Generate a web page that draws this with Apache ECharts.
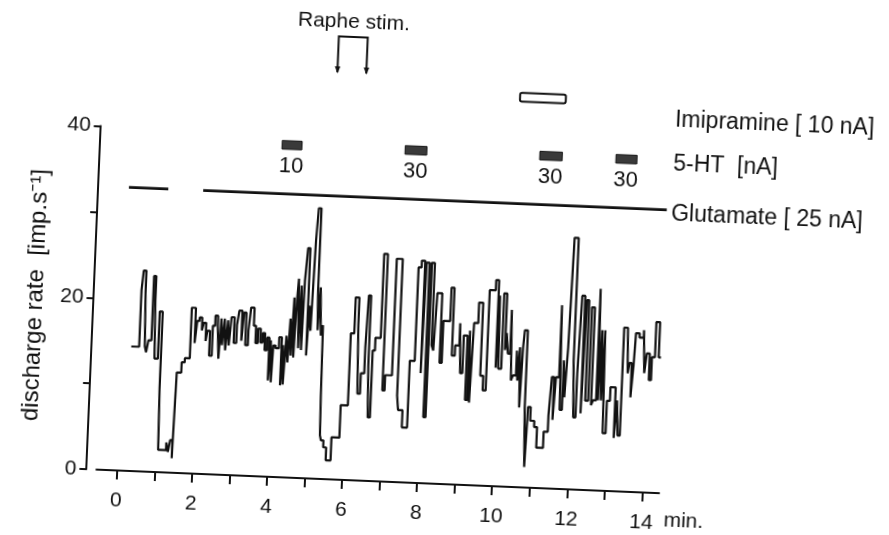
<!DOCTYPE html>
<html>
<head>
<meta charset="utf-8">
<script src="https://cdn.jsdelivr.net/npm/echarts@6.0.0/dist/echarts.min.js"></script>
<style>
  html, body { margin: 0; padding: 0; background: #fff; overflow: hidden; }
  #chart { width: 889px; height: 535px; transform: rotate(2.4deg); transform-origin: 50% 50%; }
</style>
</head>
<body>
<div id="chart"></div>
<script>
// ---- data ----
// discharge-rate trace: time (min) at which each step starts, and its rate (imp/s)
const stepTimes = [
  0.24, 0.45, 0.49, 0.56, 0.60, 0.64, 0.69, 0.77, 0.83, 0.87, 0.96, 1.04, 1.07, 1.28, 1.33, 1.38, 1.44, 1.48, 1.60, 1.68, 1.81,
  1.92, 1.97, 2.03, 2.10, 2.15, 2.21, 2.25, 2.32, 2.39, 2.45, 2.52, 2.57, 2.61, 2.65, 2.70, 2.74, 2.79, 2.83, 2.88, 2.96,
  3.03, 3.08, 3.16, 3.21, 3.27, 3.34, 3.39, 3.48, 3.54, 3.60, 3.67, 3.73, 3.79, 3.85, 3.91, 3.95, 3.99, 4.02, 4.08, 4.17,
  4.24, 4.28, 4.31, 4.36, 4.41, 4.45, 4.49, 4.53, 4.56, 4.60, 4.63, 4.68, 4.71, 4.76, 4.79, 4.84, 4.90, 4.94, 4.99, 5.04,
  5.08, 5.15, 5.18, 5.22, 5.27, 5.32, 5.34, 5.36, 5.39, 5.46, 5.54, 5.67, 5.88, 6.07, 6.16, 6.26, 6.31, 6.38, 6.47, 6.51,
  6.57, 6.61, 6.67, 6.73, 6.87, 6.97, 7.03, 7.21, 7.37, 7.41, 7.53, 7.67, 7.80, 7.88, 7.97, 8.01, 8.09, 8.15, 8.23, 8.28,
  8.33, 8.46, 8.52, 8.70, 8.78, 8.86, 8.97, 9.02, 9.08, 9.18, 9.24, 9.29, 9.34, 9.45, 9.56, 9.64, 9.72, 9.88, 9.96, 10.00,
  10.03, 10.11, 10.19, 10.22, 10.27, 10.33, 10.38, 10.43, 10.51, 10.55, 10.59, 10.63, 10.67, 10.70, 10.78, 10.81, 10.83, 10.87, 10.94, 11.05,
  11.13, 11.31, 11.42, 11.47, 11.53, 11.58, 11.66, 11.71, 11.77, 11.82, 11.87, 11.92, 12.03, 12.08, 12.14, 12.19, 12.27, 12.32, 12.38, 12.46,
  12.54, 12.59, 12.67, 12.72, 12.76, 12.80, 12.84, 12.88, 12.96, 13.04, 13.18, 13.23, 13.28, 13.34, 13.44, 13.48, 13.52, 13.58, 13.63, 13.66,
  13.76, 13.87, 13.92, 13.97, 14.05, 14.11, 14.19, 14.29, 14.35
];
const stepRates = [
  14.5, 21.1, 23.4, 20.9, 14.6, 13.9, 15.3, 22.8, 20.0, 13.2, 18.7, 9.8, 2.6, 3.5, 2.4, 3.8, 1.7, 11.7, 12.9, 13.4, 19.3,
  15.2, 17.8, 18.2, 16.7, 17.6, 15.5, 16.7, 13.8, 17.3, 18.5, 17.4, 13.5, 18.2, 15.1, 18.2, 14.5, 18.0, 15.1, 18.4, 15.4,
  17.5, 19.2, 15.7, 19.0, 15.2, 16.9, 19.6, 17.5, 15.5, 17.2, 15.6, 16.7, 14.7, 16.2, 11.2, 15.9, 11.0, 15.3, 15.0, 16.3,
  10.7, 15.4, 10.8, 16.5, 13.4, 18.5, 14.2, 21.0, 14.0, 20.7, 23.2, 15.1, 22.4, 14.9, 23.0, 26.8, 14.3, 20.1, 17.2, 27.7,
  31.5, 21.9, 17.3, 22.3, 16.7, 17.9, 9.7, 5.1, 4.5, 3.7, 2.2, 4.9, 8.7, 17.1, 21.3, 18.1, 10.1, 12.5, 15.5, 21.6,
  13.4, 7.4, 15.2, 16.7, 26.5, 10.6, 12.4, 26.0, 10.1, 8.4, 6.4, 14.2, 25.1, 25.9, 12.8, 25.7, 7.7, 25.7, 16.1, 15.5,
  22.2, 14.1, 19.0, 22.9, 15.0, 16.2, 18.8, 13.0, 17.4, 9.9, 18.0, 9.6, 18.9, 21.3, 12.8, 11.1, 22.8, 24.0, 13.8, 22.2,
  13.7, 22.5, 15.9, 17.9, 15.5, 20.6, 12.4, 13.0, 15.9, 12.4, 16.3, 9.3, 16.3, 18.3, 9.3, 5.1, 2.4, 9.4, 7.8, 7.1,
  4.7, 6.6, 8.5, 13.0, 8.0, 13.0, 21.4, 9.2, 15.0, 10.7, 16.5, 29.3, 15.0, 8.4, 13.5, 22.6, 8.9, 22.1, 10.4, 21.3,
  9.9, 10.5, 23.5, 10.5, 18.7, 10.5, 18.7, 6.7, 10.5, 12.1, 6.2, 10.6, 6.5, 19.1, 19.0, 13.8, 15.0, 11.0, 14.8, 18.5,
  18.0, 18.9, 13.9, 16.2, 13.1, 15.8, 19.9, 15.8, 15.8
];
// drug applications (min)
const glutamateOn = [[0.00, 1.05], [1.98, 14.34]];
const htPulses = [[4.03, 4.56], [7.31, 7.89], [10.90, 11.50], [12.93, 13.49]];
const htDoses = ['10', '30', '30', '30'];
const imipraminePulse = [10.31, 11.53];
const rapheStim = [5.42, 6.19];
const drugLabels = ['Imipramine [ 10 nA]', '5-HT  [nA]', 'Glutamate [ 25 nA]'];
// axis ticks
const xTicks = [0, 1, 2, 3, 4, 5, 6, 7, 8, 9, 10, 11, 12, 13, 14];
const xLabels = [0, 2, 4, 6, 8, 10, 12, 14];
const yLabels = [0, 20, 40];

// ---- layout ----
const FONT = '"Liberation Sans", Arial, sans-serif';
const INK = '#111';
const ROW = { glu: 33.0, htTop: 39.2, htBot: 38.2, htText: 36.2, imiTop: 45.9, imiBot: 44.9,
              rapheTop: 51.6, rapheBot: 47.4, rapheText: 53.3,
              labelT: 14.46, labelV: [43.5, 38.4, 32.5], minT: 14.6, minV: -3.2 };

function renderAnnotations(params, api) {
  const P = (t, v) => api.coord([t, v]);
  const kids = [];
  const txt = (p, s, size, align) => ({
    type: 'text', x: p[0], y: p[1],
    style: { text: s, font: size + 'px ' + FONT, fill: INK, align: align || 'center', verticalAlign: 'middle' }
  });
  // glutamate
  glutamateOn.forEach(([s, e]) => {
    const a = P(s, ROW.glu), b = P(e, ROW.glu);
    kids.push({ type: 'line', shape: { x1: a[0], y1: a[1], x2: b[0], y2: b[1] },
      style: { stroke: INK, lineWidth: 2.6 } });
  });
  // 5-HT pulses
  htPulses.forEach(([s, e], i) => {
    const a = P(s, ROW.htTop), b = P(e, ROW.htBot);
    kids.push({ type: 'rect', shape: { x: a[0], y: a[1], width: b[0] - a[0], height: b[1] - a[1] },
      style: { fill: '#3a3a3a', stroke: INK, lineWidth: 1 } });
    kids.push(txt(P((s + e) / 2, ROW.htText), htDoses[i], 22));
  });
  // imipramine
  {
    const a = P(imipraminePulse[0], ROW.imiTop), b = P(imipraminePulse[1], ROW.imiBot);
    kids.push({ type: 'rect', shape: { x: a[0], y: a[1], width: b[0] - a[0], height: b[1] - a[1], r: 2 },
      style: { fill: '#fff', stroke: INK, lineWidth: 2 } });
  }
  // raphe stimulation bracket
  {
    const l0 = P(rapheStim[0], ROW.rapheBot), l1 = P(rapheStim[0], ROW.rapheTop);
    const r1 = P(rapheStim[1], ROW.rapheTop), r0 = P(rapheStim[1], ROW.rapheBot);
    kids.push({ type: 'polyline', shape: { points: [l0, l1, r1, r0] },
      style: { stroke: INK, lineWidth: 2, fill: null } });
    [l0, r0].forEach(p => {
      kids.push({ type: 'polygon', shape: { points: [[p[0] - 2.8, p[1] - 6], [p[0] + 2.8, p[1] - 6], [p[0], p[1] + 1]] },
        style: { fill: INK } });
    });
    const c = P((rapheStim[0] + rapheStim[1]) / 2, ROW.rapheText);
    kids.push(txt(c, 'Raphe stim.', 21));
  }
  // drug labels
  drugLabels.forEach((s, i) => kids.push(txt(P(ROW.labelT, ROW.labelV[i]), s, 23, 'left')));
  // time unit
  kids.push(txt(P(ROW.minT, ROW.minV), 'min.', 21, 'left'));
  return { type: 'group', children: kids };
}

const chart = echarts.init(document.getElementById('chart'), null, { renderer: 'canvas' });
chart.setOption({
  animation: false,
  backgroundColor: '#fff',
  textStyle: { fontFamily: FONT, color: INK },
  grid: { left: 105.2, top: 140.5, width: 563.1, height: 343.5, containLabel: false, outerBoundsMode: 'none' },
  xAxis: {
    type: 'value', min: -0.55, max: 14.45,
    axisLine: { show: true, onZero: false, lineStyle: { color: INK, width: 2 } },
    axisTick: { show: true, customValues: xTicks, length: 9, inside: false, lineStyle: { color: INK, width: 2 } },
    axisLabel: { show: true, customValues: xLabels, margin: 20, fontSize: 21, color: INK, fontFamily: FONT },
    splitLine: { show: false }
  },
  yAxis: {
    type: 'value', min: 0, max: 40, interval: 10, offset: 10,
    axisLine: { show: true, onZero: false, lineStyle: { color: INK, width: 2 } },
    axisTick: { show: true, length: 7, inside: false, lineStyle: { color: INK, width: 2 } },
    axisLabel: { show: true, margin: 10, fontSize: 21, color: INK, fontFamily: FONT,
      formatter: v => (yLabels.indexOf(v) >= 0 ? String(v) : '') },
    splitLine: { show: false },
    name: 'discharge rate  [imp.s\u207B\u00B9]', nameLocation: 'middle', nameGap: 46, nameRotate: 90,
    nameTextStyle: { fontSize: 24, color: INK, fontFamily: FONT }
  },
  series: [
    {
      type: 'line', step: 'end', symbol: 'none', clip: false,
      data: stepTimes.map((t, i) => [t, stepRates[i]]),
      lineStyle: { color: INK, width: 2.2 }
    },
    {
      type: 'custom', clip: false, silent: true,
      data: [[0, 0]],
      renderItem: renderAnnotations
    }
  ]
});
</script>
</body>
</html>
